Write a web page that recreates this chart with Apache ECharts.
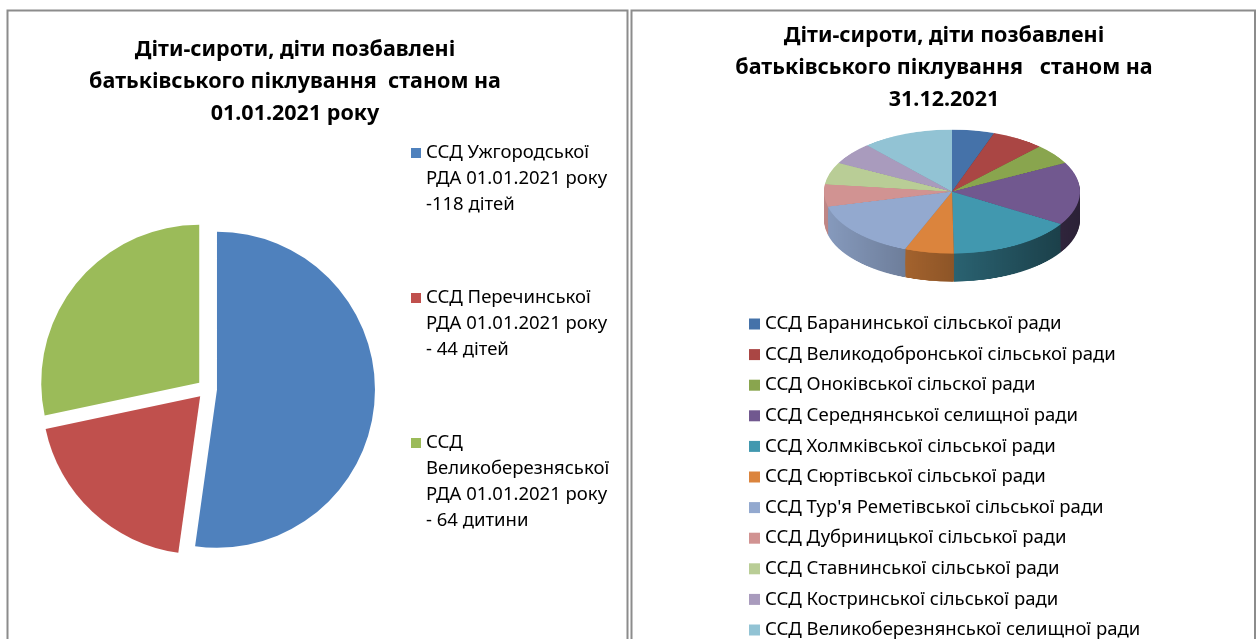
<!DOCTYPE html>
<html>
<head>
<meta charset="utf-8">
<script src="https://cdn.jsdelivr.net/npm/echarts@6/dist/echarts.min.js"></script>
<style>
html, body { margin: 0; padding: 0; background: #fff; }
#main { position: absolute; left: 0; top: 0; width: 1259px; height: 639px; }
#pie3d { position: absolute; left: 802px; top: 119px; width: 300px; height: 400px;
         transform-origin: 0 0; transform: scaleY(0.484); }
</style>
</head>
<body>
<div id="main"></div>
<div id="pie3d"></div>
<script>
// ліва діаграма - станом на 01.01.2021
var leftNames = [
    'ССД Ужгородської\nРДА 01.01.2021 року\n-118 дітей',
    'ССД Перечинської\nРДА 01.01.2021 року\n- 44 дітей',
    'ССД\nВеликоберезняської\nРДА 01.01.2021 року\n- 64 дитини'
];
var leftValues = [118, 44, 64];
var leftColors = ['#4F81BD', '#C0504D', '#9BBB59'];

// права діаграма - станом на 31.12.2021
var rightNames = [
    'ССД Баранинської сільської ради',
    'ССД Великодобронської сільської ради',
    'ССД Оноківської сільскої ради',
    'ССД Середнянської селищної ради',
    'ССД Холмківської сільської ради',
    'ССД Сюртівської сільської ради',
    "ССД Тур'я Реметівської сільської ради",
    'ССД Дубриницької сільської ради',
    'ССД Ставнинської сільської ради',
    'ССД Костринської сільської ради',
    'ССД Великоберезнянської селищної ради'
];
var rightValues = [12, 15, 12, 37, 36, 14, 34, 13, 13, 13, 26];
var rightColors = ['#4572A9', '#AA4644', '#89A54E', '#71588F', '#4198AF', '#DB843D',
                   '#93A9CF', '#D19392', '#B9CD96', '#A99BBD', '#92C3D4'];

var titleLeft = 'Діти-сироти, діти позбавлені\nбатьківського піклування  станом на\n01.01.2021 року';
var titleRight = 'Діти-сироти, діти позбавлені\nбатьківського піклування   станом на\n31.12.2021';

var font = 'Noto Sans';

function shade(hex, f) {
    var n = parseInt(hex.slice(1), 16);
    var r = Math.round(((n >> 16) & 255) * f);
    var g = Math.round(((n >> 8) & 255) * f);
    var b = Math.round((n & 255) * f);
    return 'rgb(' + r + ',' + g + ',' + b + ')';
}

var titleStyle = { fontFamily: font, fontSize: 21.5, fontWeight: 'bold', lineHeight: 32, color: '#000' };

var main = echarts.init(document.getElementById('main'));
main.setOption({
    backgroundColor: '#fff',
    animation: false,
    title: [
        { text: titleLeft, left: 295, top: 34, textAlign: 'center', padding: 0, textStyle: titleStyle },
        { text: titleRight, left: 944, top: 20, textAlign: 'center', padding: 0, textStyle: titleStyle }
    ],
    legend: [{
        orient: 'vertical',
        left: 411,
        top: 62,
        height: 500,
        padding: 0,
        itemWidth: 10,
        itemHeight: 10,
        itemGap: -37,
        icon: 'rect',
        selectedMode: false,
        data: leftNames,
        // порожні рядки зверху, щоб маркер стояв навпроти першого рядка
        formatter: function (name) {
            var n = name.split('\n').length;
            return '\n\n\n' + name + (n < 4 ? '\n' : '');
        },
        textStyle: { fontFamily: font, fontSize: 18.5, lineHeight: 26, color: '#000' }
    }, {
        orient: 'vertical',
        left: 749,
        top: 314,
        height: 400,
        padding: 0,
        itemWidth: 11,
        itemHeight: 11,
        itemGap: 10.6,
        icon: 'rect',
        selectedMode: false,
        data: rightNames,
        textStyle: { fontFamily: font, fontSize: 18.5, lineHeight: 20, color: '#000' }
    }],
    graphic: [
        { type: 'rect', shape: { x: 7.5, y: 10.5, width: 620, height: 700 },
          style: { fill: 'none', stroke: '#8c8c8c', lineWidth: 2 } },
        { type: 'rect', shape: { x: 631.5, y: 10.5, width: 623.5, height: 700 },
          style: { fill: 'none', stroke: '#8c8c8c', lineWidth: 2 } }
    ],
    series: [{
        type: 'pie',
        center: [207, 389],
        radius: 158,
        selectedMode: 'multiple',
        selectedOffset: 10,
        label: { show: false },
        labelLine: { show: false },
        emphasis: { disabled: true },
        itemStyle: { borderWidth: 0 },
        data: leftValues.map(function (v, i) {
            return { value: v, name: leftNames[i], selected: true, itemStyle: { color: leftColors[i] } };
        })
    }, {
        // лише для легенди, сама 3D діаграма намальована нижче
        type: 'pie',
        center: [952, 192],
        radius: 0,
        silent: true,
        label: { show: false },
        labelLine: { show: false },
        itemStyle: { borderWidth: 0 },
        data: rightValues.map(function (v, i) {
            return { value: v, name: rightNames[i], itemStyle: { color: rightColors[i] } };
        })
    }]
});

// "об'ємна" діаграма: шари бічної стінки + верхня грань, стиснуто по вертикалі через css
var pie3d = echarts.init(document.getElementById('pie3d'));
var depth = 58;
var series3d = [];
for (var k = depth; k > 0; k -= 2) {
    series3d.push({
        type: 'pie',
        center: [150, 150 + k],
        radius: 128,
        silent: true,
        label: { show: false },
        labelLine: { show: false },
        itemStyle: { borderWidth: 0 },
        data: rightValues.map(function (v, i) {
            var c = rightColors[i];
            return {
                value: v, name: rightNames[i],
                itemStyle: {
                    color: new echarts.graphic.LinearGradient(22, 0, 278, 0, [
                        { offset: 0, color: shade(c, 0.92) },
                        { offset: 1, color: shade(c, 0.38) }
                    ], true)
                }
            };
        })
    });
}
series3d.push({
    type: 'pie',
    center: [150, 150],
    radius: 128,
    silent: true,
    label: { show: false },
    labelLine: { show: false },
    itemStyle: { borderWidth: 0 },
    data: rightValues.map(function (v, i) {
        return { value: v, name: rightNames[i], itemStyle: { color: rightColors[i] } };
    })
});
pie3d.setOption({
    animation: false,
    series: series3d
});
</script>
</body>
</html>
